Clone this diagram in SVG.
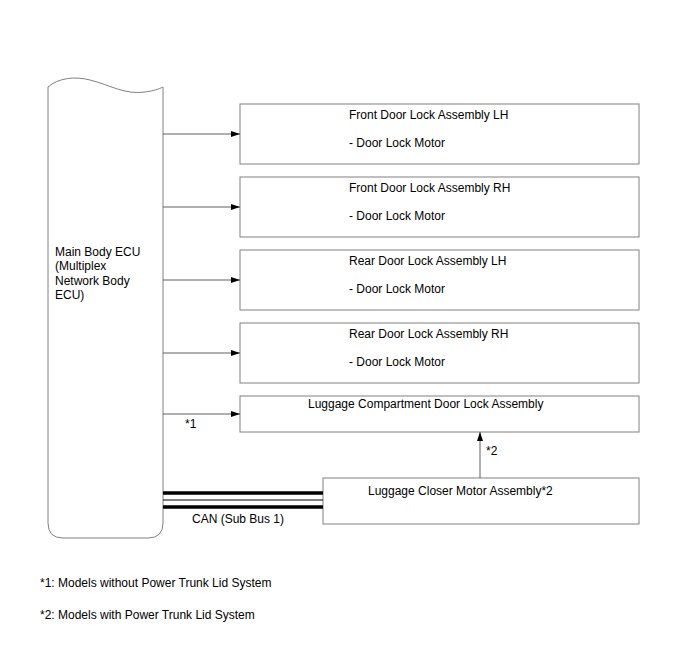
<svg xmlns="http://www.w3.org/2000/svg" width="688" height="658" viewBox="0 0 688 658">
<style>
text{font-family:"Liberation Sans",Arial,sans-serif;font-size:12px;fill:#000}
.box{fill:#fff;stroke:#808080;stroke-width:1}
.ln{stroke:#606060;stroke-width:1;fill:none}
.bus{stroke:#000;stroke-width:3.5}
</style>
<defs>
<marker id="ah" markerWidth="9" markerHeight="6" refX="9" refY="3" orient="auto" markerUnits="userSpaceOnUse">
<path d="M0,0 L9,3 L0,6 z" fill="#000"/>
</marker>
</defs>
<rect width="688" height="658" fill="#fff"/>
<g id="ecu">
<path class="box" d="M48,87 C58,78 75,76 90,80 C110,85 125,95 145,92 C153,91 159,89 163,87 L163,523 Q163,538 148,538 L63,538 Q48,538 48,523 Z"/>
<text x="55" y="256">Main Body ECU</text>
<text x="55" y="270">(Multiplex</text>
<text x="55" y="285">Network Body</text>
<text x="55" y="299">ECU)</text>
</g>
<g id="front-lh">
<rect class="box" x="240" y="104" width="399" height="60"/>
<text x="349" y="119">Front Door Lock Assembly LH</text>
<text x="349" y="147">- Door Lock Motor</text>
</g>
<g id="front-rh">
<rect class="box" x="240" y="177" width="399" height="60"/>
<text x="349" y="192">Front Door Lock Assembly RH</text>
<text x="349" y="220">- Door Lock Motor</text>
</g>
<g id="rear-lh">
<rect class="box" x="240" y="250" width="399" height="60"/>
<text x="349" y="265">Rear Door Lock Assembly LH</text>
<text x="349" y="293">- Door Lock Motor</text>
</g>
<g id="rear-rh">
<rect class="box" x="240" y="323" width="399" height="60"/>
<text x="349" y="338">Rear Door Lock Assembly RH</text>
<text x="349" y="366">- Door Lock Motor</text>
</g>
<g id="luggage-lock">
<rect class="box" x="240" y="396" width="399" height="36"/>
<text x="308" y="408">Luggage Compartment Door Lock Assembly</text>
</g>
<g id="closer-motor">
<rect class="box" x="323" y="478" width="316" height="46"/>
<text x="368" y="495">Luggage Closer Motor Assembly*2</text>
</g>
<g id="connectors">
<line class="ln" x1="163" y1="134" x2="240" y2="134" marker-end="url(#ah)"/>
<line class="ln" x1="163" y1="207" x2="240" y2="207" marker-end="url(#ah)"/>
<line class="ln" x1="163" y1="280" x2="240" y2="280" marker-end="url(#ah)"/>
<line class="ln" x1="163" y1="353" x2="240" y2="353" marker-end="url(#ah)"/>
<line class="ln" x1="163" y1="414" x2="240" y2="414" marker-end="url(#ah)"/>
<line class="ln" x1="480" y1="478" x2="480" y2="432" marker-end="url(#ah)"/>
<line class="bus" x1="163" y1="493" x2="323" y2="493"/>
<line x1="163" y1="500" x2="323" y2="500" stroke="#000" stroke-width="1"/>
<line class="bus" x1="163" y1="507" x2="323" y2="507"/>
<text x="185" y="428">*1</text>
<text x="486" y="455">*2</text>
<text x="192" y="523">CAN (Sub Bus 1)</text>
</g>
<text x="40" y="587">*1: Models without Power Trunk Lid System</text>
<text x="40" y="619">*2: Models with Power Trunk Lid System</text>
</svg>
